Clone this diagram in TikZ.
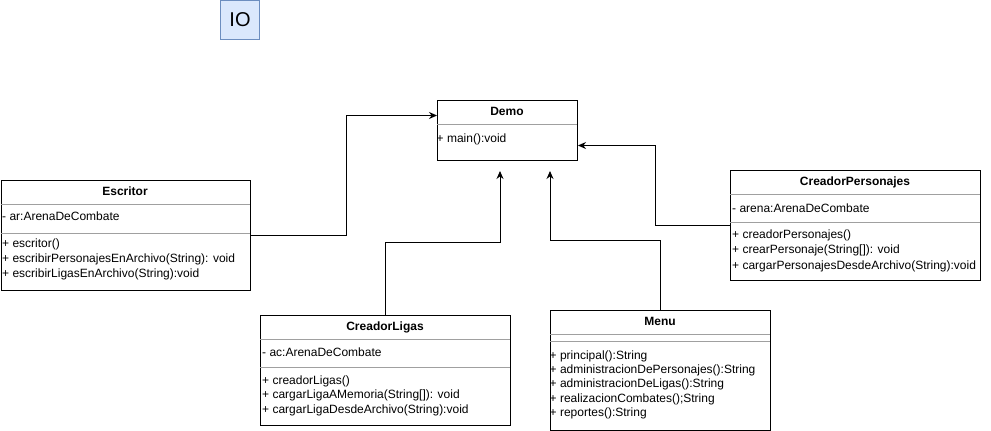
\documentclass[tikz,border=0pt]{standalone}
\usepackage{fontspec}
\setmainfont{Liberation Sans}
\usetikzlibrary{arrows.meta}
\definecolor{iofill}{HTML}{DAE8FC}
\definecolor{iodraw}{HTML}{6C8EBF}
\definecolor{divgray}{HTML}{A0A0A0}
\tikzset{
  classbox/.style={draw=black, line width=1pt, anchor=north west, inner sep=0pt},
  divline/.style={draw=divgray, line width=1pt},
  member/.style={anchor=west, inner sep=0pt, text height=8.6pt, text depth=0pt, font=\fontsize{12}{15}\selectfont},
  ctitle/.style={inner sep=0pt, text height=8.6pt, text depth=0pt, font=\fontsize{12}{15}\selectfont\bfseries},
  conn/.style={draw=black, line width=1pt, -{Stealth[length=8pt,width=7pt]}},
}
\begin{document}
\begin{tikzpicture}[x=1pt,y=-1pt]
\useasboundingbox (0,0) rectangle (991,431);

% IO box
\node[draw=iodraw, fill=iofill, line width=1pt, minimum width=39pt, minimum height=39pt, inner sep=0pt, font=\fontsize{20}{24}\selectfont] (io) at (240,20) {IO};

% Demo
\node[classbox, minimum width=140pt, minimum height=60pt] (demo) at (437,100) {};
\node[ctitle] (demot) at (507,111) {Demo};
\draw[divline] (437,124) -- (577,124);
\node[member] (demom) at (436.5,138) {+ main():void};

% Escritor
\node[classbox, minimum width=249.5pt, minimum height=110pt] (esc) at (0.5,180) {};
\node[ctitle] (esct) at (125,191) {Escritor};
\draw[divline] (0.5,204) -- (250,204);
\node[member] (esca) at (2,216) {- ar:ArenaDeCombate};
\draw[divline] (0.5,233) -- (250,233);
\node[member] (escm1) at (2,243) {+ escritor()};
\node[member] (escm2) at (2,258) {+ escribirPersonajesEnArchivo(String): void};
\node[member] (escm3) at (2,273) {+ escribirLigasEnArchivo(String):void};

% CreadorPersonajes
\node[classbox, minimum width=250pt, minimum height=110pt] (cp) at (730,170) {};
\node[ctitle] (cpt) at (855,181) {CreadorPersonajes};
\draw[divline] (730,194) -- (980,194);
\node[member] (cpa) at (732,208) {- arena:ArenaDeCombate};
\draw[divline] (730,222) -- (980,222);
\node[member] (cpm1) at (732,234) {+ creadorPersonajes()};
\node[member] (cpm2) at (732,249) {+ crearPersonaje(String[]): void};
\node[member] (cpm3) at (732,265) {+ cargarPersonajesDesdeArchivo(String):void};

% CreadorLigas
\node[classbox, minimum width=250pt, minimum height=110pt] (cl) at (260,315) {};
\node[ctitle] (clt) at (385,326) {CreadorLigas};
\draw[divline] (260,339) -- (510,339);
\node[member] (cla) at (262,352) {- ac:ArenaDeCombate};
\draw[divline] (260,367) -- (510,367);
\node[member] (clm1) at (262,380) {+ creadorLigas()};
\node[member] (clm2) at (262,394) {+ cargarLigaAMemoria(String[]): void};
\node[member] (clm3) at (262,409) {+ cargarLigaDesdeArchivo(String):void};

% Menu
\node[classbox, minimum width=220pt, minimum height=120pt] (menu) at (550,310) {};
\node[ctitle] (menut) at (660,321) {Menu};
\draw[divline] (550,334) -- (770,334);
\draw[divline] (550,341) -- (770,341);
\node[member] (mm1) at (549.5,355) {+ principal():String};
\node[member] (mm2) at (549.5,369) {+ administracionDePersonajes():String};
\node[member] (mm3) at (549.5,383) {+ administracionDeLigas():String};
\node[member] (mm4) at (549.5,398) {+ realizacionCombates();String};
\node[member] (mm5) at (549.5,412) {+ reportes():String};

% connectors
\coordinate (t1) at (500,171);
\coordinate (t2) at (550,171);
\draw[conn] (esc.east) -- ++(95,0) |- ([yshift=15pt]demo.west);
\draw[conn] (cp.west) -- ++(-75,0) |- ([yshift=-15pt]demo.east);
\draw[conn] (cl.north) -- ++(0,-73) -| (t1);
\draw[conn] (menu.north) -- ++(0,-70) -| (t2);
\end{tikzpicture}
\end{document}
